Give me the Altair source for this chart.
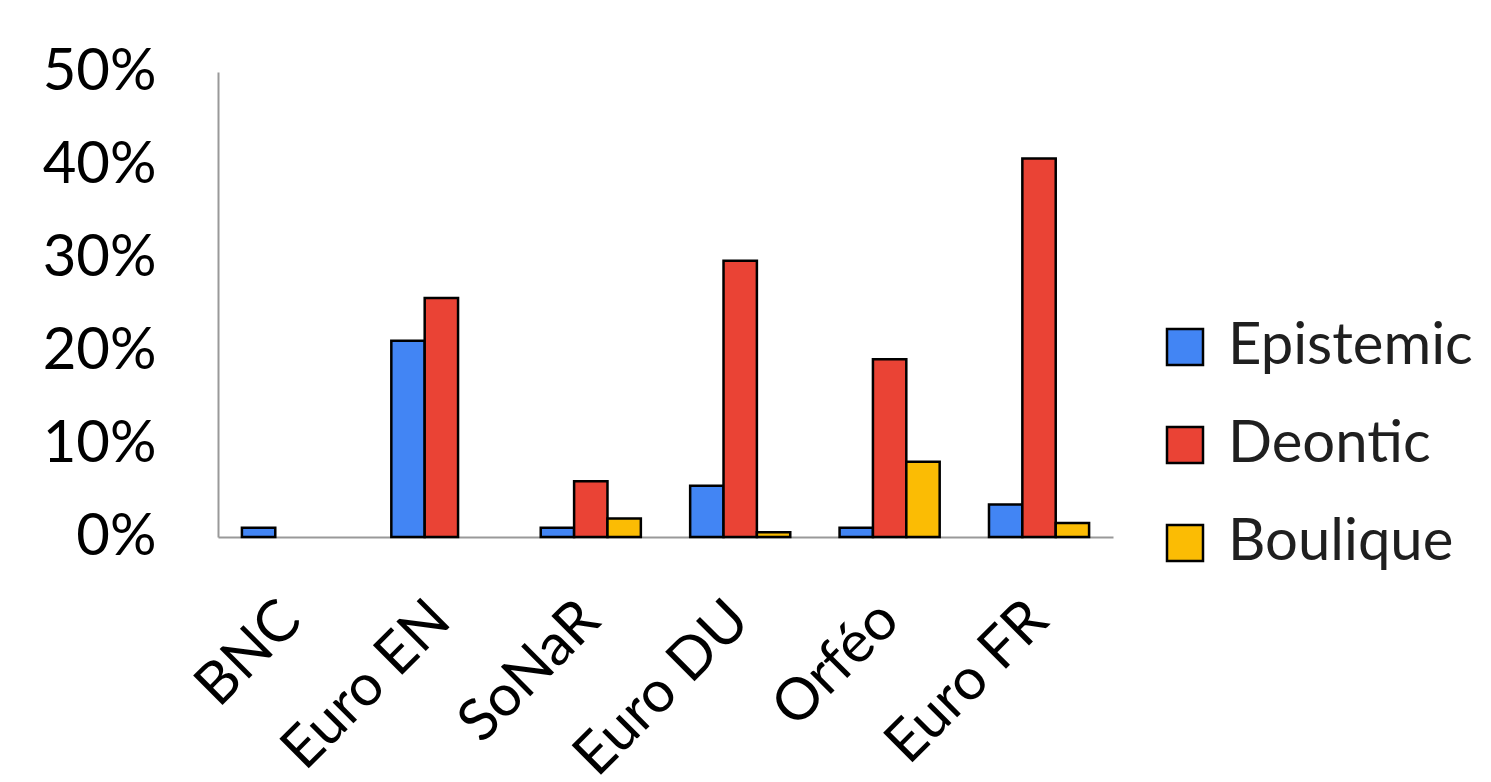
import altair as alt
import pandas as pd

corpora = ["BNC", "Euro EN", "SoNaR", "Euro DU", "Orféo", "Euro FR"]
series = ["Epistemic", "Deontic", "Boulique"]
epistemic = [0.010, 0.211, 0.010, 0.055, 0.010, 0.035]
deontic = [0.0, 0.257, 0.060, 0.297, 0.191, 0.407]
boulique = [0.0, 0.0, 0.020, 0.005, 0.081, 0.015]
colors = ["#4285F4", "#EA4335", "#FBBC04"]

rows = []
for i, c in enumerate(corpora):
    for s, vals in zip(series, [epistemic, deontic, boulique]):
        rows.append({"corpus": c, "type": s, "value": vals[i]})
df = pd.DataFrame(rows)

FONT = "Lato"
FS = 58

chart = alt.Chart(df).transform_filter(alt.datum.value > 0).mark_bar(
    stroke="black", strokeWidth=2.5
).encode(
    x=alt.X("corpus:N", sort=corpora, title=None,
            scale=alt.Scale(paddingInner=0.33, paddingOuter=0.16),
            axis=alt.Axis(labelAngle=-45, labelAlign="right", labelBaseline="middle",
                          labelPadding=74, ticks=False, domainColor="#999999",
                          domainWidth=2, labelFontSize=FS, labelFont=FONT,
                          labelColor="black", labelLimit=400)),
    xOffset=alt.XOffset("type:N", sort=series),
    y=alt.Y("value:Q", title=None,
            scale=alt.Scale(domain=[0, 0.5]),
            axis=alt.Axis(format=".0%", values=[0, 0.1, 0.2, 0.3, 0.4, 0.5],
                          grid=False, ticks=False, domainColor="#999999",
                          domainWidth=2, labelPadding=62, labelFontSize=FS,
                          labelFont=FONT, labelColor="black")),
    color=alt.Color("type:N", sort=series,
                    scale=alt.Scale(domain=series, range=colors),
                    legend=alt.Legend(title=None, orient="none", legendX=938, legendY=246,
                                      symbolType="square", symbolSize=1296,
                                      symbolStrokeColor="black", symbolStrokeWidth=2.5,
                                      labelFontSize=FS, labelFont=FONT, labelColor="#1f1f1f",
                                      rowPadding=40, labelOffset=14, labelLimit=400)),
).properties(
    width=895, height=465,
    autosize=alt.AutoSizeParams(type="none"),
    padding={"left": 210, "top": 64, "right": 360, "bottom": 240},
).configure_view(stroke=None)

chart.save("out.html", embed_options={"renderer": "svg", "actions": False})
